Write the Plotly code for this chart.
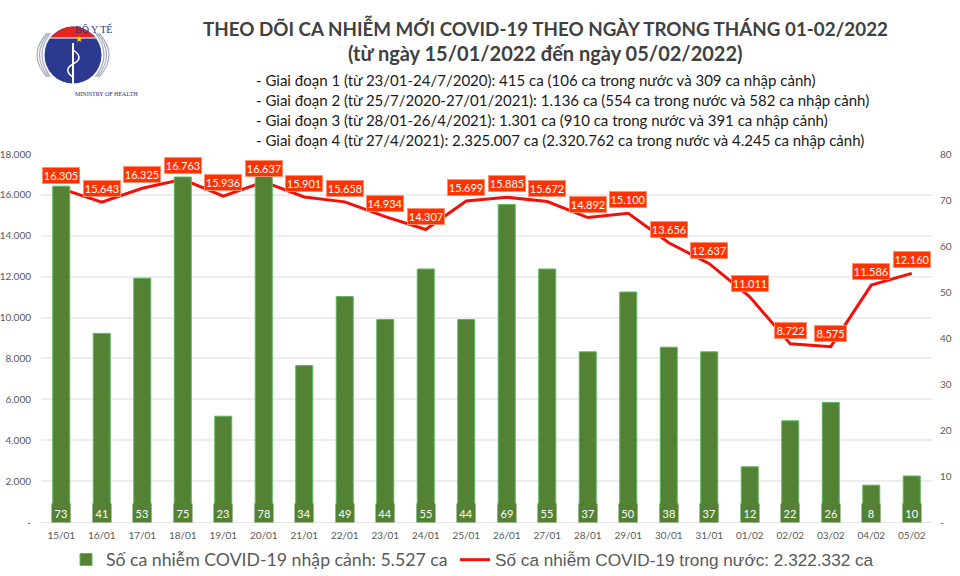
import plotly.graph_objects as go

dates = ["15/01","16/01","17/01","18/01","19/01","20/01","21/01","22/01","23/01","24/01","25/01",
         "26/01","27/01","28/01","29/01","30/01","31/01","01/02","02/02","03/02","04/02","05/02"]
imported = [73,41,53,75,23,78,34,49,44,55,44,69,55,37,50,38,37,12,22,26,8,10]
domestic = [16305,15643,16325,16763,15936,16637,15901,15658,14934,14307,15699,15885,15672,14892,15100,
            13656,12637,11011,8722,8575,11586,12160]
left_ticks = [0,2000,4000,6000,8000,10000,12000,14000,16000,18000]
left_labels = ["-","2.000","4.000","6.000","8.000","10.000","12.000","14.000","16.000","18.000"]
right_ticks = [0,10,20,30,40,50,60,70,80]
right_labels = ["-","10","20","30","40","50","60","70","80"]
title_lines = ["THEO DÕI CA NHIỄM MỚI COVID-19 THEO NGÀY TRONG THÁNG 01-02/2022",
               "(từ ngày 15/01/2022 đến ngày 05/02/2022)"]
phases = ["- Giai đoạn 1 (từ 23/01-24/7/2020): 415 ca (106 ca trong nước và 309 ca nhập cảnh)",
          "- Giai đoạn 2 (từ 25/7/2020-27/01/2021): 1.136 ca (554 ca trong nước và 582 ca nhập cảnh)",
          "- Giai đoạn 3 (từ 28/01-26/4/2021): 1.301 ca (910 ca trong nước và 391 ca nhập cảnh)",
          "- Giai đoạn 4 (từ 27/4/2021): 2.325.007 ca (2.320.762 ca trong nước và 4.245 ca nhập cảnh)"]
legend_bar = "Số ca nhiễm COVID-19 nhập cảnh: 5.527 ca"
legend_line = "Số ca nhiễm COVID-19 trong nước: 2.322.332 ca"

W, H = 960, 576
L, R, T, B = 41, 28, 154, 54
SANS = "Lato, 'Open Sans', sans-serif"
ARIAL = "'Liberation Sans', sans-serif"
SERIF = "'Liberation Serif', serif"
PW, PH = W-L-R, H-T-B

def px(x): return (x-L)/PW
def py(y): return 1-(y-T)/PH
def fmt(v): return f"{v:,}".replace(",", ".")

fig = go.Figure()
fig.add_bar(x=dates, y=imported, yaxis="y2", name=legend_bar, width=0.42, legend="legend",
            marker=dict(color="#548235", line=dict(color="#5CB860", width=1)))
fig.add_scatter(x=dates, y=domestic, mode="lines", name=legend_line, legend="legend2",
                line=dict(color="#F2110A", width=3))

ann = []
for d, v in zip(dates, domestic):
    label = fmt(v)
    ann.append(dict(x=d, y=v, xref="x", yref="y", text=label, showarrow=False, yshift=13.5,
                    font=dict(family=SANS, size=11, color="white"), bgcolor="#FF3300",
                    bordercolor="#FF8F70", borderwidth=1, borderpad=0,
                    width=36 if len(label) > 5 else 31, height=15))
for d, v in zip(dates, imported):
    ann.append(dict(x=d, y=0, xref="x", yref="y", text=str(v), showarrow=False, yshift=9, yanchor="middle",
                    font=dict(family=SANS, size=11, color="white"), bgcolor="#548235",
                    borderpad=0, width=18, height=18))
for i, t in enumerate(title_lines):
    ann.append(dict(x=px(545), y=py(27 if i == 0 else 53), xref="paper", yref="paper",
                    text=f"<b>{t}</b>", showarrow=False, xanchor="center", yanchor="middle",
                    font=dict(family=SANS, size=18.8 if i == 0 else 20, color="#404040")))
for i, t in enumerate(phases):
    ann.append(dict(x=px(254), y=py(80+20*i), xref="paper", yref="paper", text=t, showarrow=False,
                    xanchor="left", yanchor="middle", font=dict(family=SANS, size=15, color="#1A1A1A")))
# Logo captions
ann.append(dict(x=px(73), y=py(21), xref="paper", yref="paper", text="BỘ Y TẾ", showarrow=False,
                font=dict(family=SERIF, size=10, color="#27307A")))
ann.append(dict(x=px(73), y=py(89), xref="paper", yref="paper", text="MINISTRY OF HEALTH", showarrow=False,
                font=dict(family=SERIF, size=6, color="#27307A")))
ann.append(dict(x=px(73), y=py(32), xref="paper", yref="paper", text="★", showarrow=False,
                font=dict(family="DejaVu Sans", size=9, color="#F5D90A")))

def circ(cx, cy, r, **k):
    return dict(type="circle", xref="paper", yref="paper", x0=px(cx-r), x1=px(cx+r),
                y0=py(cy+r), y1=py(cy-r), **k)
def path(d, **k):
    return dict(type="path", xref="paper", yref="paper", path=d, **k)
def P(x, y): return f"{px(x)} {py(y)}"
shapes = [circ(73, 55, 28.5, line=dict(width=0), fillcolor="#2B3A8F"),
          path(f"M {P(50,38)} Q {P(73,15)} {P(96,38)} Z", fillcolor="#E8231F", line=dict(width=0)),
          path(f"M {P(50,38)} L {P(96,38)}", line=dict(color="white", width=1)),
          path(f"M {P(73,43)} L {P(73,84)}", line=dict(color="white", width=2)),
          path(f"M {P(73,50)} Q {P(85,58)} {P(73,64)} Q {P(62,70)} {P(74,78)}",
               line=dict(color="white", width=1.5), fillcolor="rgba(0,0,0,0)")]
for r, w in [(31, 1.2), (33.5, 1.2), (36, 1.2)]:
    for s in (-1, 1):
        shapes.append(path(f"M {P(73+s*r*0.72,33)} Q {P(73+s*r*1.28,55)} {P(73+s*r*0.72,77)}",
                           line=dict(color="#A8AEBE", width=w), fillcolor="rgba(0,0,0,0)"))

fig.update_layout(
    width=W, height=H, margin=dict(l=L, r=R, t=T, b=B, pad=0, autoexpand=False),
    paper_bgcolor="white", plot_bgcolor="white", showlegend=True,
    annotations=ann, shapes=shapes,
    font=dict(family=SANS, color="#595959"),
    xaxis=dict(type="category", categoryorder="array", categoryarray=dates, range=[-0.5, 21.5], showgrid=False,
               ticks="", showline=True, linecolor="#E4E4E4", linewidth=1, tickfont=dict(size=10, color="#595959"), ticklabelstandoff=4),
    yaxis=dict(range=[0, 18000], tickvals=left_ticks, ticktext=left_labels, gridcolor="#EDEDED", gridwidth=1.5,
               zeroline=False, tickfont=dict(size=10, color="#595959"), layer="below traces", ticklabelstandoff=9),
    yaxis2=dict(range=[0, 80], tickvals=right_ticks, ticktext=right_labels, overlaying="y", side="right",
                showgrid=False, zeroline=False, tickfont=dict(size=10, color="#595959"), ticklabelstandoff=7),
    legend=dict(orientation="h", x=px(66), xanchor="left", y=py(560), yanchor="middle",
                font=dict(family=SANS, size=17.7, color="#595959"), bgcolor="rgba(0,0,0,0)"),
    legend2=dict(orientation="h", x=px(455), xanchor="left", y=py(560), yanchor="middle",
                 font=dict(family=ARIAL, size=17.2, color="#595959"), bgcolor="rgba(0,0,0,0)"),
)
fig.write_html("out.html", config=dict(displayModeBar=False), post_script="document.body.style.margin='0';")
